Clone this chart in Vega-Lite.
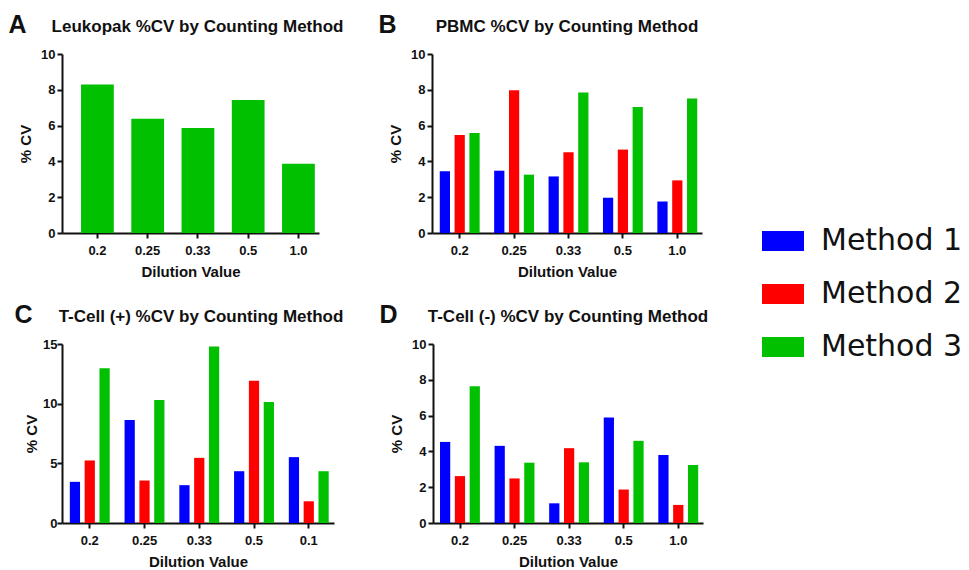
{
  "$schema": "https://vega.github.io/schema/vega-lite/v6.json",
  "padding": {"left": 8, "top": 13, "right": 5, "bottom": 5},
  "background": "white",
  "datasets": {
    "cv": [
      {"panel": "A", "dilution": "0.2", "method": "Method 3", "cv": 8.3},
      {"panel": "A", "dilution": "0.25", "method": "Method 3", "cv": 6.38},
      {"panel": "A", "dilution": "0.33", "method": "Method 3", "cv": 5.86},
      {"panel": "A", "dilution": "0.5", "method": "Method 3", "cv": 7.43},
      {"panel": "A", "dilution": "1.0", "method": "Method 3", "cv": 3.87},

      {"panel": "B", "dilution": "0.2", "method": "Method 1", "cv": 3.45},
      {"panel": "B", "dilution": "0.2", "method": "Method 2", "cv": 5.47},
      {"panel": "B", "dilution": "0.2", "method": "Method 3", "cv": 5.58},
      {"panel": "B", "dilution": "0.25", "method": "Method 1", "cv": 3.48},
      {"panel": "B", "dilution": "0.25", "method": "Method 2", "cv": 7.98},
      {"panel": "B", "dilution": "0.25", "method": "Method 3", "cv": 3.26},
      {"panel": "B", "dilution": "0.33", "method": "Method 1", "cv": 3.16},
      {"panel": "B", "dilution": "0.33", "method": "Method 2", "cv": 4.51},
      {"panel": "B", "dilution": "0.33", "method": "Method 3", "cv": 7.85},
      {"panel": "B", "dilution": "0.5", "method": "Method 1", "cv": 1.97},
      {"panel": "B", "dilution": "0.5", "method": "Method 2", "cv": 4.66},
      {"panel": "B", "dilution": "0.5", "method": "Method 3", "cv": 7.04},
      {"panel": "B", "dilution": "1.0", "method": "Method 1", "cv": 1.76},
      {"panel": "B", "dilution": "1.0", "method": "Method 2", "cv": 2.94},
      {"panel": "B", "dilution": "1.0", "method": "Method 3", "cv": 7.51},

      {"panel": "C", "dilution": "0.2", "method": "Method 1", "cv": 3.45},
      {"panel": "C", "dilution": "0.2", "method": "Method 2", "cv": 5.24},
      {"panel": "C", "dilution": "0.2", "method": "Method 3", "cv": 12.97},
      {"panel": "C", "dilution": "0.25", "method": "Method 1", "cv": 8.63},
      {"panel": "C", "dilution": "0.25", "method": "Method 2", "cv": 3.56},
      {"panel": "C", "dilution": "0.25", "method": "Method 3", "cv": 10.3},
      {"panel": "C", "dilution": "0.33", "method": "Method 1", "cv": 3.17},
      {"panel": "C", "dilution": "0.33", "method": "Method 2", "cv": 5.46},
      {"panel": "C", "dilution": "0.33", "method": "Method 3", "cv": 14.79},
      {"panel": "C", "dilution": "0.5", "method": "Method 1", "cv": 4.34},
      {"panel": "C", "dilution": "0.5", "method": "Method 2", "cv": 11.93},
      {"panel": "C", "dilution": "0.5", "method": "Method 3", "cv": 10.14},
      {"panel": "C", "dilution": "0.1", "method": "Method 1", "cv": 5.52},
      {"panel": "C", "dilution": "0.1", "method": "Method 2", "cv": 1.82},
      {"panel": "C", "dilution": "0.1", "method": "Method 3", "cv": 4.34},

      {"panel": "D", "dilution": "0.2", "method": "Method 1", "cv": 4.53},
      {"panel": "D", "dilution": "0.2", "method": "Method 2", "cv": 2.62},
      {"panel": "D", "dilution": "0.2", "method": "Method 3", "cv": 7.64},
      {"panel": "D", "dilution": "0.25", "method": "Method 1", "cv": 4.31},
      {"panel": "D", "dilution": "0.25", "method": "Method 2", "cv": 2.49},
      {"panel": "D", "dilution": "0.25", "method": "Method 3", "cv": 3.37},
      {"panel": "D", "dilution": "0.33", "method": "Method 1", "cv": 1.1},
      {"panel": "D", "dilution": "0.33", "method": "Method 2", "cv": 4.18},
      {"panel": "D", "dilution": "0.33", "method": "Method 3", "cv": 3.39},
      {"panel": "D", "dilution": "0.5", "method": "Method 1", "cv": 5.9},
      {"panel": "D", "dilution": "0.5", "method": "Method 2", "cv": 1.87},
      {"panel": "D", "dilution": "0.5", "method": "Method 3", "cv": 4.59},
      {"panel": "D", "dilution": "1.0", "method": "Method 1", "cv": 3.8},
      {"panel": "D", "dilution": "1.0", "method": "Method 2", "cv": 1.01},
      {"panel": "D", "dilution": "1.0", "method": "Method 3", "cv": 3.24}
    ]
  },
  "config": {
    "view": {"stroke": null},
    "font": "Liberation Sans",
    "axis": {
      "grid": false,
      "domainColor": "#111111",
      "domainWidth": 2,
      "tickColor": "#111111",
      "tickWidth": 2,
      "tickSize": 5,
      "labelFont": "Liberation Sans",
      "labelFontWeight": "bold",
      "labelFontSize": 13,
      "labelColor": "#111111",
      "titleFont": "Liberation Sans",
      "titleFontWeight": "bold",
      "titleFontSize": 15,
      "titleColor": "#111111"
    },
    "axisX": {"labelAngle": 0, "labelPadding": 6, "titlePadding": 7},
    "axisY": {"labelPadding": 2, "titlePadding": 7},
    "title": {"font": "Liberation Sans", "fontSize": 17, "fontWeight": "bold", "color": "#111111", "anchor": "middle", "offset": 12},
    "legend": {
      "orient": "none",
      "title": null,
      "labelFont": "DejaVu Sans",
      "labelFontSize": 30,
      "labelColor": "#111111",
      "labelLimit": 300,
      "symbolType": "M-1,-0.476L1,-0.476L1,0.476L-1,0.476Z",
      "symbolSize": 1764,
      "symbolStrokeWidth": 0,
      "symbolOpacity": 1,
      "rowPadding": 17,
      "labelOffset": 17
    }
  },
  "resolve": {"scale": {"color": "shared"}},
  "vconcat": [
    {
      "spacing": 34,
      "hconcat": [
        {
          "title": {"text": "A", "orient": "left", "anchor": "end", "angle": 0, "align": "left", "baseline": "top", "fontSize": 25, "offset": -8, "dy": -5},
          "vconcat": [
            {
              "width": 257,
              "height": 179,
              "title": {"text": "Leukopak %CV by Counting Method", "dx": 7},
              "data": {"name": "cv"},
              "transform": [{"filter": "datum.panel === 'A'"}],
              "mark": {"type": "bar"},
              "encoding": {
                "x": {"field": "dilution", "type": "nominal", "sort": ["0.2", "0.25", "0.33", "0.5", "1.0"], "title": "Dilution Value", "scale": {"paddingInner": 0.348, "paddingOuter": 0.231, "align": 0.82}},
                "y": {"field": "cv", "type": "quantitative", "title": "% CV", "scale": {"domain": [0, 10], "nice": false}, "axis": {"values": [0, 2, 4, 6, 8, 10]}},
                "color": {"field": "method", "type": "nominal", "scale": {"domain": ["Method 1", "Method 2", "Method 3"], "range": ["#0000FF", "#FF0000", "#00C000"]}, "legend": {"legendX": 700, "legendY": 166}}
              }
            }
          ]
        },
        {
          "title": {"text": "B", "orient": "left", "anchor": "end", "angle": 0, "align": "left", "baseline": "top", "fontSize": 25, "offset": -8, "dy": -5},
          "vconcat": [
            {
              "width": 270,
              "height": 179,
              "title": "PBMC %CV by Counting Method",
              "data": {"name": "cv"},
              "transform": [{"filter": "datum.panel === 'B'"}],
              "mark": {"type": "bar"},
              "encoding": {
                "x": {"field": "dilution", "type": "nominal", "sort": ["0.2", "0.25", "0.33", "0.5", "1.0"], "title": "Dilution Value", "scale": {"paddingInner": 0.267, "paddingOuter": 0.115, "align": 0.62}},
                "xOffset": {"field": "method", "type": "nominal", "sort": ["Method 1", "Method 2", "Method 3"], "scale": {"paddingInner": 0.31, "paddingOuter": 0}},
                "y": {"field": "cv", "type": "quantitative", "title": "% CV", "scale": {"domain": [0, 10], "nice": false}, "axis": {"values": [0, 2, 4, 6, 8, 10]}},
                "color": {"field": "method", "type": "nominal", "scale": {"domain": ["Method 1", "Method 2", "Method 3"], "range": ["#0000FF", "#FF0000", "#00C000"]}, "legend": {"legendX": 700, "legendY": 166}}
              }
            }
          ]
        }
      ]
    },
    {
      "spacing": 35,
      "hconcat": [
        {
          "title": {"text": "C", "orient": "left", "anchor": "end", "angle": 0, "align": "left", "baseline": "top", "fontSize": 25, "offset": -8, "dy": -5},
          "vconcat": [
            {
              "width": 272,
              "height": 179,
              "title": {"text": "T-Cell (+) %CV by Counting Method", "dx": 3},
              "data": {"name": "cv"},
              "transform": [{"filter": "datum.panel === 'C'"}],
              "mark": {"type": "bar"},
              "encoding": {
                "x": {"field": "dilution", "type": "nominal", "sort": ["0.2", "0.25", "0.33", "0.5", "0.1"], "title": "Dilution Value", "scale": {"paddingInner": 0.27, "paddingOuter": 0.119, "align": 0.6}},
                "xOffset": {"field": "method", "type": "nominal", "sort": ["Method 1", "Method 2", "Method 3"], "scale": {"paddingInner": 0.31, "paddingOuter": 0}},
                "y": {"field": "cv", "type": "quantitative", "title": "% CV", "scale": {"domain": [0, 15], "nice": false}, "axis": {"values": [0, 5, 10, 15], "titlePadding": 3, "labelPadding": 0}},
                "color": {"field": "method", "type": "nominal", "scale": {"domain": ["Method 1", "Method 2", "Method 3"], "range": ["#0000FF", "#FF0000", "#00C000"]}, "legend": {"legendX": 700, "legendY": 166}}
              }
            }
          ]
        },
        {
          "title": {"text": "D", "orient": "left", "anchor": "end", "angle": 0, "align": "left", "baseline": "top", "fontSize": 25, "offset": -8, "dy": -5},
          "vconcat": [
            {
              "width": 270,
              "height": 179,
              "title": "T-Cell (-) %CV by Counting Method",
              "data": {"name": "cv"},
              "transform": [{"filter": "datum.panel === 'D'"}],
              "mark": {"type": "bar"},
              "encoding": {
                "x": {"field": "dilution", "type": "nominal", "sort": ["0.2", "0.25", "0.33", "0.5", "1.0"], "title": "Dilution Value", "scale": {"paddingInner": 0.267, "paddingOuter": 0.107, "align": 0.6}},
                "xOffset": {"field": "method", "type": "nominal", "sort": ["Method 1", "Method 2", "Method 3"], "scale": {"paddingInner": 0.31, "paddingOuter": 0}},
                "y": {"field": "cv", "type": "quantitative", "title": "% CV", "scale": {"domain": [0, 10], "nice": false}, "axis": {"values": [0, 2, 4, 6, 8, 10]}},
                "color": {"field": "method", "type": "nominal", "scale": {"domain": ["Method 1", "Method 2", "Method 3"], "range": ["#0000FF", "#FF0000", "#00C000"]}, "legend": {"legendX": 700, "legendY": 166}}
              }
            }
          ]
        }
      ]
    }
  ],
  "spacing": 24
}
